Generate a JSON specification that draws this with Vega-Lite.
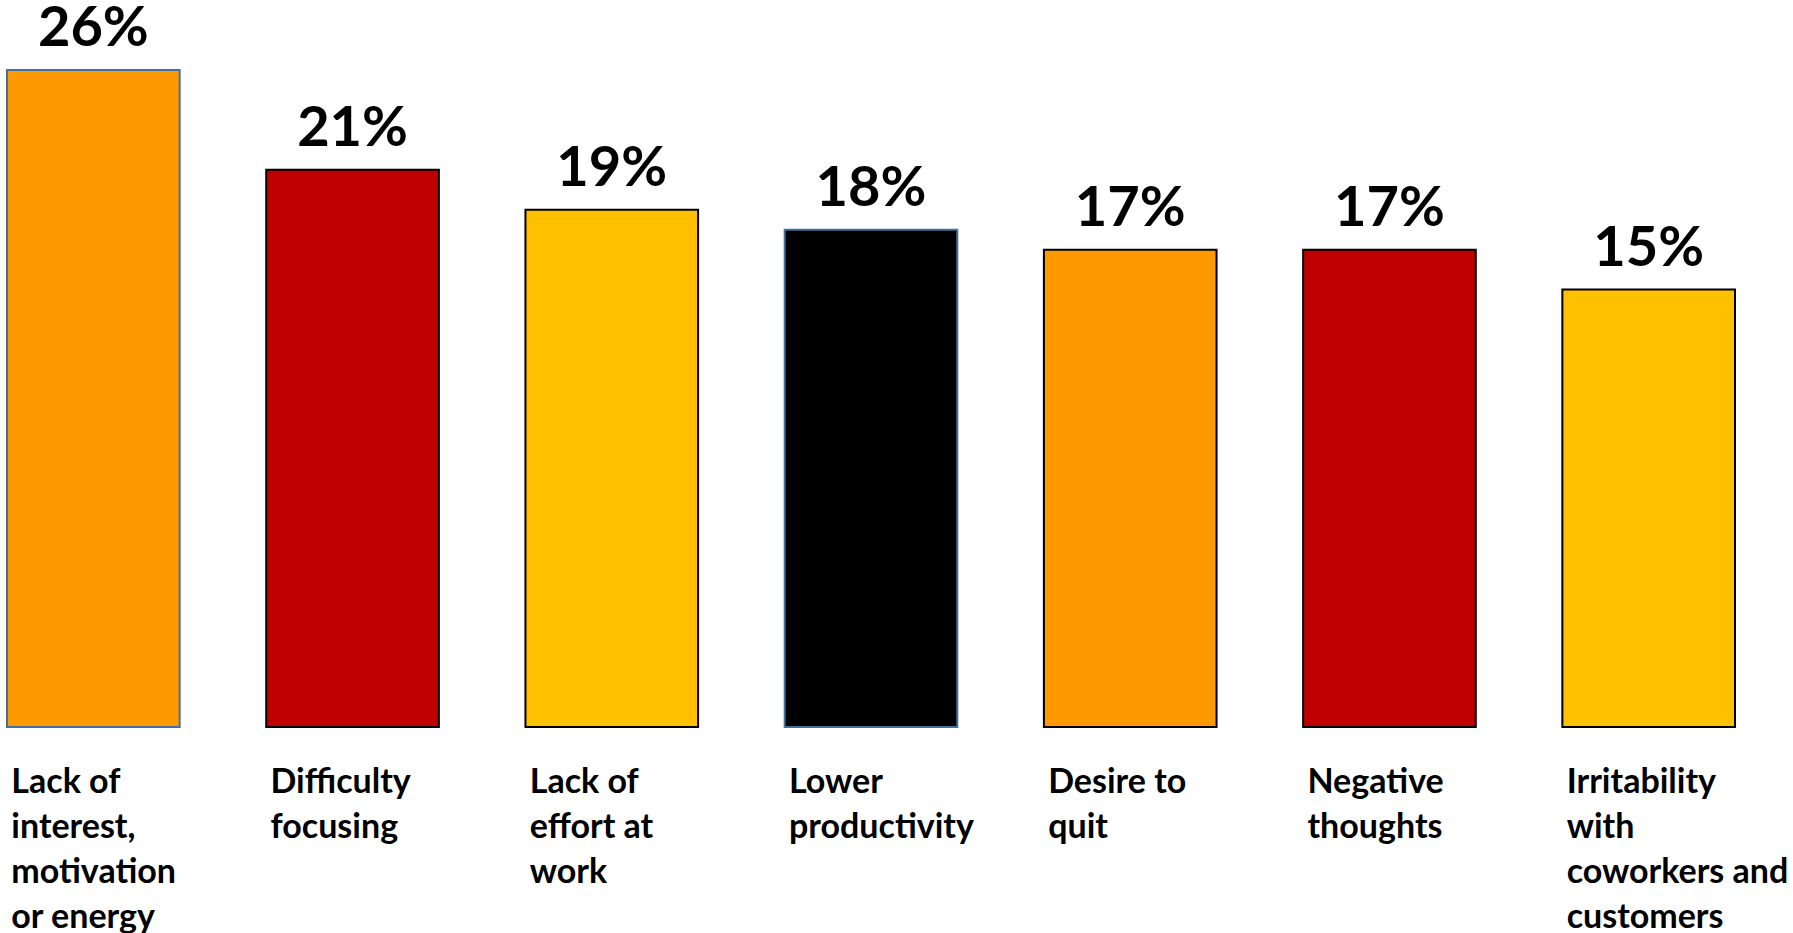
{
  "$schema": "https://vega.github.io/schema/vega-lite/v6.json",
  "width": 1742,
  "height": 727,
  "autosize": "none",
  "padding": {"left": 0, "top": 0, "right": 51, "bottom": 206},
  "background": "white",
  "config": {"view": {"stroke": null}},
  "data": {
    "values": [
      {"symptom": "Lack of interest, motivation or energy", "pct": 0.26},
      {"symptom": "Difficulty focusing", "pct": 0.21},
      {"symptom": "Lack of effort at work", "pct": 0.19},
      {"symptom": "Lower productivity", "pct": 0.18},
      {"symptom": "Desire to quit", "pct": 0.17},
      {"symptom": "Negative thoughts", "pct": 0.17},
      {"symptom": "Irritability with coworkers and customers", "pct": 0.15}
    ]
  },
  "encoding": {
    "x": {
      "field": "symptom",
      "type": "nominal",
      "sort": null,
      "scale": {"paddingInner": 0.334, "paddingOuter": 0.027},
      "axis": {
        "title": null,
        "orient": "bottom",
        "domain": false,
        "ticks": false,
        "labelAngle": 0,
        "labelAlign": "left",
        "labelOffset": -82,
        "labelBaseline": "alphabetic",
        "labelPadding": 65,
        "labelFont": "Lato",
        "labelFontWeight": "bold",
        "labelFontSize": 34,
        "labelLineHeight": 45,
        "labelColor": "black",
        "labelLimit": 0,
        "labelOverlap": false,
        "labelExpr": "{'Lack of interest, motivation or energy':['Lack of','interest,','motivation','or energy'],'Difficulty focusing':['Difficulty','focusing'],'Lack of effort at work':['Lack of','effort at','work'],'Lower productivity':['Lower','productivity'],'Desire to quit':['Desire to','quit'],'Negative thoughts':['Negative','thoughts'],'Irritability with coworkers and customers':['Irritability','with','coworkers and','customers']}[datum.label]"
      }
    },
    "y": {
      "field": "pct",
      "type": "quantitative",
      "scale": {"domain": [-0.069, 0.295], "zero": false, "nice": false},
      "axis": null
    }
  },
  "layer": [
    {
      "mark": {"type": "bar", "strokeWidth": 2},
      "encoding": {
        "y2": {"datum": -0.069},
        "fill": {
          "field": "symptom",
          "type": "nominal",
          "legend": null,
          "scale": {
            "domain": ["Lack of interest, motivation or energy", "Difficulty focusing", "Lack of effort at work", "Lower productivity", "Desire to quit", "Negative thoughts", "Irritability with coworkers and customers"],
            "range": ["#FF9900", "#C00000", "#FFC000", "#000000", "#FF9900", "#C00000", "#FFC000"]
          }
        },
        "stroke": {
          "field": "symptom",
          "type": "nominal",
          "legend": null,
          "scale": {
            "domain": ["Lack of interest, motivation or energy", "Difficulty focusing", "Lack of effort at work", "Lower productivity", "Desire to quit", "Negative thoughts", "Irritability with coworkers and customers"],
            "range": ["#41719C", "#000000", "#000000", "#41719C", "#000000", "#000000", "#000000"]
          }
        }
      }
    },
    {
      "mark": {"type": "text", "font": "Lato", "fontWeight": "bold", "fontSize": 56, "baseline": "alphabetic", "dy": -24, "color": "black"},
      "encoding": {
        "text": {"field": "pct", "type": "quantitative", "format": ".0%"}
      }
    }
  ]
}
